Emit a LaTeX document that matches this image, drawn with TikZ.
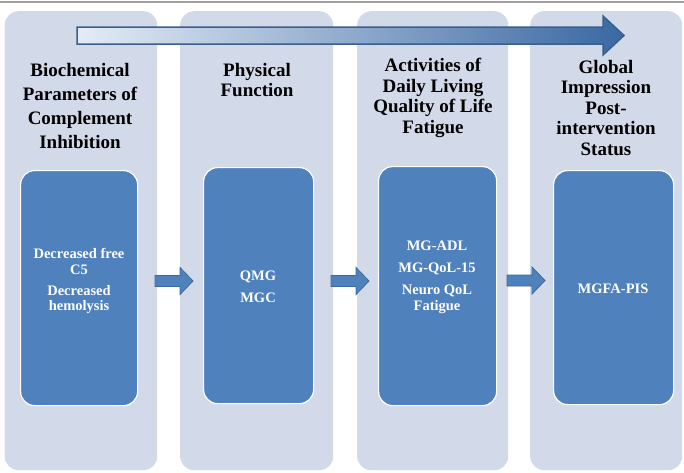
\documentclass[tikz,border=0pt]{standalone}
\usepackage{fontspec}
\setmainfont{Liberation Serif}
\definecolor{colbg}{HTML}{D2D9E8}
\definecolor{boxblue}{HTML}{4F81BD}
\definecolor{arrline}{HTML}{3B6A9F}
\definecolor{bigline}{HTML}{3A5F8C}
\definecolor{gradL}{HTML}{E4ECF6}
\definecolor{gradM}{HTML}{BCD0E8}
\definecolor{gradR}{HTML}{3A68A2}
\definecolor{topline}{HTML}{A0A0A0}
\begin{document}
\begin{tikzpicture}[x=1pt,y=-1pt,
  colbox/.style={fill=colbg, draw=none, rounded corners=14pt, anchor=north west, inner sep=0pt},
  innerbox/.style={fill=boxblue, draw=white, line width=1.2pt, rounded corners=14pt, anchor=north west, inner sep=0pt},
  head/.style={font=\fontsize{19}{24}\selectfont\bfseries, align=center, anchor=north, inner sep=0pt, text=black},
  boxtxt/.style={font=\fontsize{14.5}{15.5}\selectfont\bfseries, align=center, anchor=north, inner sep=0pt, text=white},
  blockarrow/.style={fill=boxblue, draw=arrline, line width=0.8pt, line join=miter}
]
\useasboundingbox (0,0) rectangle (684,472);
% top rule
\draw[topline, line width=2pt] (0,2) -- (684,2);
% columns
\node[colbox, minimum width=152.5pt, minimum height=459pt] (c1) at (4.5,11) {};
\node[colbox, minimum width=153pt, minimum height=459pt] (c2) at (180,11) {};
\node[colbox, minimum width=151pt, minimum height=459pt] (c3) at (357,11) {};
\node[colbox, minimum width=152pt, minimum height=459pt] (c4) at (530,11) {};
% big gradient arrow
\coordinate (A0) at (77,35.5);
\path[left color=gradL, middle color=gradM, right color=gradR, draw=bigline, line width=1.5pt, line join=miter]
  (A0) ++(0,-8.5) -- ++(526,0) -- ++(0,-11) -- ++(21,19.5) -- ++(-21,19.5) -- ++(0,-11) -- ++(-526,0) -- cycle;
% headings
\node[head] (h1) at (80,63.6) {Biochemical\\Parameters of\\Complement\\Inhibition};
\node[head, font=\fontsize{19}{20.5}\selectfont\bfseries] (h2) at (257,63) {Physical\\Function};
\node[head, font=\fontsize{19}{20.5}\selectfont\bfseries] (h3) at (433,58) {Activities of\\Daily Living\\Quality of Life\\Fatigue};
\node[head, font=\fontsize{19}{20.5}\selectfont\bfseries] (h4) at (606,60) {Global\\Impression\\Post-\\intervention\\Status};
% inner boxes
\node[innerbox, minimum width=117pt, minimum height=235pt] (b1) at (20,170) {};
\node[innerbox, minimum width=110pt, minimum height=236pt] (b2) at (203,167) {};
\node[innerbox, minimum width=118pt, minimum height=239pt] (b3) at (378,166) {};
\node[innerbox, minimum width=120pt, minimum height=234pt] (b4) at (553,170) {};
% box texts
\node[boxtxt] (t1) at (79,248.5) {Decreased free\\C5\\[5.5pt]Decreased\\hemolysis};
\node[boxtxt] (t2) at (258,270.5) {QMG\\[6.5pt]MGC};
\node[boxtxt] (t3) at (437,240.5) {MG-ADL\\[6.5pt]MG-QoL-15\\[7pt]Neuro QoL\\Fatigue};
\node[boxtxt] (t4) at (613,283.5) {MGFA-PIS};
% block arrows between stages
\foreach \s/\x/\y in {a1/155/281, a2/331/281, a3/507/280.5}{
  \coordinate (\s) at (\x,\y);
  \draw[blockarrow] (\s) ++(0,-5.5) -- ++(25,0) -- ++(0,-8) -- ++(13,13.5) -- ++(-13,13.5) -- ++(0,-8) -- ++(-25,0) -- cycle;
}
\end{tikzpicture}
\end{document}
